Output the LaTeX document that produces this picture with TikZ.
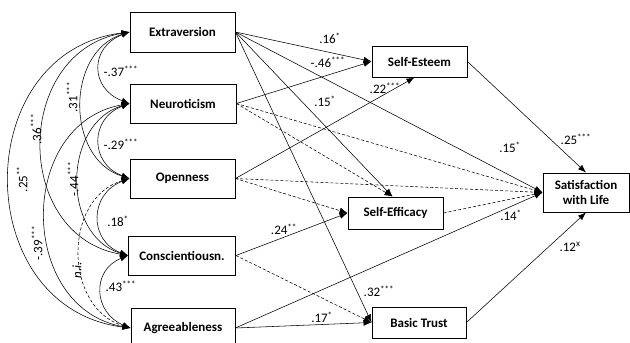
\documentclass[tikz,border=0pt]{standalone}
\usepackage{fontspec}
\setmainfont{Carlito}
\usetikzlibrary{arrows.meta,calc}
\begin{document}
\begin{tikzpicture}[x=1pt,y=1pt,
  every node/.style={font=\fontsize{13}{15}\selectfont},
  box/.style={draw, line width=0.9pt, font=\fontsize{13}{15}\selectfont\bfseries, inner sep=0pt, align=center},
  lab/.style={inner sep=0pt},
  conn/.style={-{Latex[length=8pt,width=6pt]}, line width=0.55pt},
  dconn/.style={conn, dash pattern=on 3pt off 2pt},
  corr/.style={{Latex[length=8pt,width=6pt]}-{Latex[length=8pt,width=6pt]}, line width=0.55pt},
  dcorr/.style={corr, dash pattern=on 3pt off 2pt}]
\useasboundingbox (0,0) rectangle (630,-343);
% boxes
\node[box, minimum width=105pt, minimum height=40pt] (E) at (182.5,-32) {Extraversion};
\node[box, minimum width=106pt, minimum height=39pt] (N) at (183,-103.5) {Neuroticism};
\node[box, minimum width=105pt, minimum height=39pt] (O) at (182.5,-178.5) {Openness};
\node[box, minimum width=107pt, minimum height=39pt] (C) at (182,-255.5) {Conscientiousn.};
\node[box, minimum width=104pt, minimum height=40pt] (A) at (183,-328) {Agreeableness};
\node[box, minimum width=95pt, minimum height=31pt] (SE) at (419.5,-61.5) {Self-Esteem};
\node[box, minimum width=95pt, minimum height=32pt] (SF) at (395.5,-213) {Self-Efficacy};
\node[box, minimum width=94pt, minimum height=31pt] (BT) at (419,-322.5) {Basic Trust};
\node[box, minimum width=86pt, minimum height=39pt] (SL) at (586,-192.5) {Satisfaction\\with Life};
% helper points
\coordinate (SEb) at ([xshift=-5pt]SE.south);
\coordinate (SFt) at ([xshift=-3pt]SF.north);
% paths
\draw[conn] (E.east) -- (SE.west);
\draw[conn] (N.east) -- (SE.west);
\draw[conn] (O.east) -- (SEb);
\draw[conn] (E.east) -- (SL.west);
\draw[conn] (E.east) -- (SFt);
\draw[conn] (E.east) -- (BT.west);
\draw[dconn] (N.east) -- (SL.west);
\draw[dconn] (N.east) -- (SFt);
\draw[dconn] (O.east) -- (SL.west);
\draw[dconn] (O.east) -- (SF.west);
\draw[conn] (C.east) -- (SF.west);
\draw[dconn] (C.east) -- (BT.west);
\draw[conn] (A.east) -- (SL.west);
\draw[conn] (A.east) -- (BT.west);
\draw[dconn] (SF.east) -- (SL.west);
\draw[conn] (SE.east) -- (SL.north);
\draw[conn] (BT.east) -- (SL.south);
% correlations
\draw[corr] (E.west) .. controls +(-40,-15) and +(-40,15) .. (N.west);
\draw[corr] (E.west) .. controls +(-64,-20) and +(-64,20) .. (O.west);
\draw[corr] (E.west) .. controls +(-116,-20) and +(-116,20) .. (C.west);
\draw[corr] (E.west) .. controls +(-161,-20) and +(-161,20) .. (A.west);
\draw[corr] (N.west) .. controls +(-40,-15) and +(-40,15) .. (O.west);
\draw[corr] (N.west) .. controls +(-67,-20) and +(-67,20) .. (C.west);
\draw[corr] (N.west) .. controls +(-113,-20) and +(-113,20) .. (A.west);
\draw[corr] (O.west) .. controls +(-40,-15) and +(-40,15) .. (C.west);
\draw[dcorr] (O.west) .. controls +(-67,-20) and +(-67,20) .. (A.west);
\draw[corr] (C.west) .. controls +(-37,-15) and +(-37,15) .. (A.west);
% labels right
\node[lab] (l1) at (330,-38) {.16\textsuperscript{*}};
\node[lab] (l2) at (328,-62) {-.46\textsuperscript{***}};
\node[lab] (l3) at (385,-88) {.22\textsuperscript{***}};
\node[lab] (l4) at (325,-101) {.15\textsuperscript{*}};
\node[lab] (l5) at (510,-147) {.15\textsuperscript{*}};
\node[lab] (l6) at (511,-215) {.14\textsuperscript{*}};
\node[lab] (l7) at (576,-139) {.25\textsuperscript{***}};
\node[lab] (l8) at (570,-247) {.12\textsuperscript{x}};
\node[lab] (l9) at (284,-229) {.24\textsuperscript{**}};
\node[lab] (l10) at (379,-291) {.32\textsuperscript{***}};
\node[lab] (l11) at (322,-317) {.17\textsuperscript{*}};
% labels left
\node[lab] (c1) at (121,-71) {-.37\textsuperscript{***}};
\node[lab] (c2) at (121,-144) {-.29\textsuperscript{***}};
\node[lab] (c3) at (118,-221) {.18\textsuperscript{*}};
\node[lab] (c4) at (121,-286) {.43\textsuperscript{***}};
\node[lab, rotate=90] (c5) at (72,-97) {.31\textsuperscript{***}};
\node[lab, rotate=90] (c6) at (36,-129) {.36\textsuperscript{***}};
\node[lab, rotate=90] (c7) at (22,-179) {.25\textsuperscript{**}};
\node[lab, rotate=90] (c8) at (73,-179) {-.44\textsuperscript{***}};
\node[lab, rotate=90] (c9) at (37,-243) {-.39\textsuperscript{***}};
\node[lab, rotate=90] (c10) at (77,-270) {\itshape n.i.};
\end{tikzpicture}
\end{document}
